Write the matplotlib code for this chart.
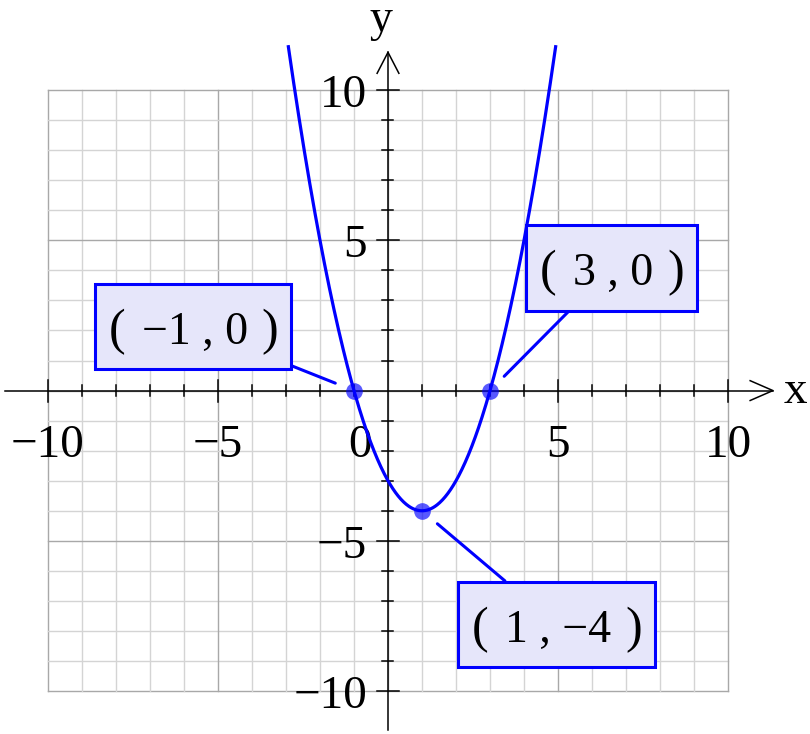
import numpy as np
import matplotlib
matplotlib.use('Agg')
import matplotlib.pyplot as plt
from matplotlib.patches import Rectangle

# labelled points on the parabola (roots and vertex)
point_x = [-1, 3, 1]
point_y = [0, 0, -4]
point_labels = [('−1', '0'), ('3', '0'), ('1', '−4')]

# visible x-range of the curve (it is cut off near y = 11.3)
curve_x_min, curve_x_max = -2.93, 4.93

grid_ticks = list(range(-10, 11))
x_tick_labels = {-10: '−10', -5: '−5', 5: '5', 10: '10'}
y_tick_labels = {10: '10', 5: '5', -5: '−5', -10: '−10'}

# box layout (data units): left, right, bottom, top
boxes = [
    (-8.62, -2.85, 0.72, 3.54),
    (4.06, 9.09, 2.65, 5.51),
    (2.06, 7.85, -9.20, -6.37),
]

serif = 'Liberation Serif'
blue = '#0000ff'

fig = plt.figure(figsize=(8.1, 7.34), dpi=100)
ax = fig.add_axes([0, 0, 1, 1])
ax.set_xlim(-11.41, 12.41)
ax.set_ylim(-11.43, 13.0)
ax.axis('off')

px_x = 1 / 34.0    # data units per pixel, x
px_y = 1 / 30.05   # data units per pixel, y

# grid
for g in grid_ticks:
    major = g % 5 == 0
    col = '#a8a8a8' if major else '#d4d4d4'
    ax.plot([g, g], [-10, 10], color=col, lw=1.0, zorder=1)
    ax.plot([-10, 10], [g, g], color=col, lw=1.0, zorder=1)

# axes with open arrow heads
ax.plot([-11.26, 11.32], [0, 0], color='black', lw=1.1, zorder=2)
ax.plot([0, 0], [-11.3, 11.26], color='black', lw=1.1, zorder=2)
ax.plot([10.65, 11.32, 10.65], [0.33, 0, -0.33], color='black', lw=1.1, zorder=2)
ax.plot([-0.32, 0, 0.32], [10.56, 11.26, 10.56], color='black', lw=1.1, zorder=2)

# tick marks
for g in grid_ticks:
    if g == 0:
        continue
    hx = (11 if g % 5 == 0 else 5.5) * px_x
    hy = (11 if g % 5 == 0 else 5.5) * px_y
    ax.plot([g, g], [-hy, hy], color='black', lw=1.1, zorder=2)
    ax.plot([-hx, hx], [g, g], color='black', lw=1.1, zorder=2)

# tick labels
for v, s in x_tick_labels.items():
    ax.text(v, -2.21, s, ha='center', va='baseline', fontsize=34, family=serif)
ax.text(-0.47, -2.21, '0', ha='right', va='baseline', fontsize=34, family=serif)
for v, s in y_tick_labels.items():
    ax.text(-0.62, v - 0.57, s, ha='right', va='baseline', fontsize=34, family=serif)

ax.text(11.62, -0.42, 'x', ha='left', va='baseline', fontsize=34, family=serif)
ax.text(-0.2, 11.98, 'y', ha='center', va='baseline', fontsize=33, family=serif)

# parabola through the three labelled points
coef = np.polyfit(point_x, point_y, 2)
xc = np.linspace(curve_x_min, curve_x_max, 400)
ax.plot(xc, np.polyval(coef, xc), color=blue, lw=2.3, zorder=4)

ax.plot(point_x, point_y, 'o', color=blue, alpha=0.65, markersize=12,
        markeredgewidth=0, zorder=5)

# annotation boxes
for (x0, x1, y0, y1), px, py, (a, b) in zip(boxes, point_x, point_y, point_labels):
    rect = Rectangle((x0, y0), x1 - x0, y1 - y0, facecolor='#e6e6fa',
                     edgecolor=blue, lw=2.2, zorder=7)
    ax.add_patch(rect)
    cx, cy = (x0 + x1) / 2, (y0 + y1) / 2
    ax.annotate('', xy=(px, py), xytext=(cx, cy),
                arrowprops=dict(arrowstyle='-', color=blue, lw=2.2,
                                patchA=rect, shrinkA=0, shrinkB=14.5),
                zorder=6)
    base = cy - 17.5 * px_y
    ax.text(x0 + 14 * px_x, base, '(', ha='left', va='baseline',
            fontsize=36, family=serif, zorder=8)
    ax.text(x1 - 13 * px_x, base, ')', ha='right', va='baseline',
            fontsize=36, family=serif, zorder=8)
    ax.text(cx + 2 * px_x, base, f'{a} , {b}', ha='center', va='baseline',
            fontsize=33, family=serif, zorder=8)

fig.savefig('out.png', dpi=100)
